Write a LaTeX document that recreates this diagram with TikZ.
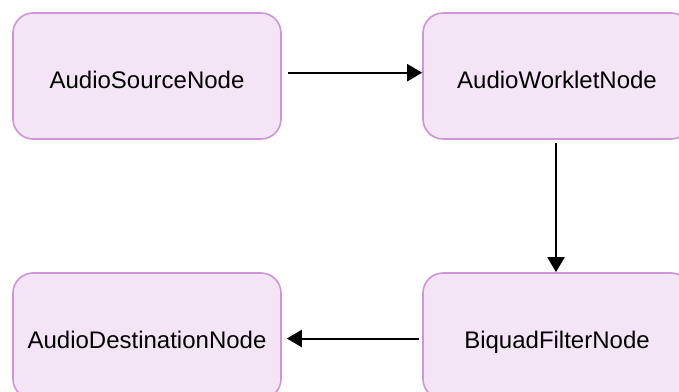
\documentclass[tikz,border=0pt]{standalone}
\usepackage{fontspec}
\setmainfont{Liberation Sans}
\usetikzlibrary{arrows.meta}
\definecolor{boxfill}{HTML}{F3E5F5}
\definecolor{boxline}{HTML}{CE93D8}
\tikzset{
  box/.style={draw=boxline, fill=boxfill, line width=1.6pt, rounded corners=20pt,
    minimum width=268pt, minimum height=126pt, inner sep=0pt,
    font=\fontsize{24}{28}\selectfont, text height=25.2pt, text depth=0pt},
  conn/.style={line width=2pt, -{Triangle[length=15pt, width=17pt]}}
}
\begin{document}
\begin{tikzpicture}[x=1pt, y=1pt]
\useasboundingbox (0,0) rectangle (679,-391);
\clip (0,0) rectangle (679,-391);
\fill[white] (0,0) rectangle (679,-391);
\node[box] (src) at (147,-76) {AudioSourceNode};
\node[box] (wrk) at (557,-76) {AudioWorkletNode};
\node[box] (dst) at (147,-336) {AudioDestinationNode};
\node[box] (bqf) at (557,-336) {BiquadFilterNode};
\draw[conn] ([xshift=6pt, yshift=3.3pt]src.east) -- ([yshift=3.3pt]wrk.west);
\draw[conn] ([yshift=-3pt, xshift=-1pt]wrk.south) -- ([xshift=-1pt]bqf.north);
\draw[conn] ([xshift=-3pt, yshift=-2.5pt]bqf.west) -- ([xshift=5pt, yshift=-2.5pt]dst.east);
\end{tikzpicture}
\end{document}
